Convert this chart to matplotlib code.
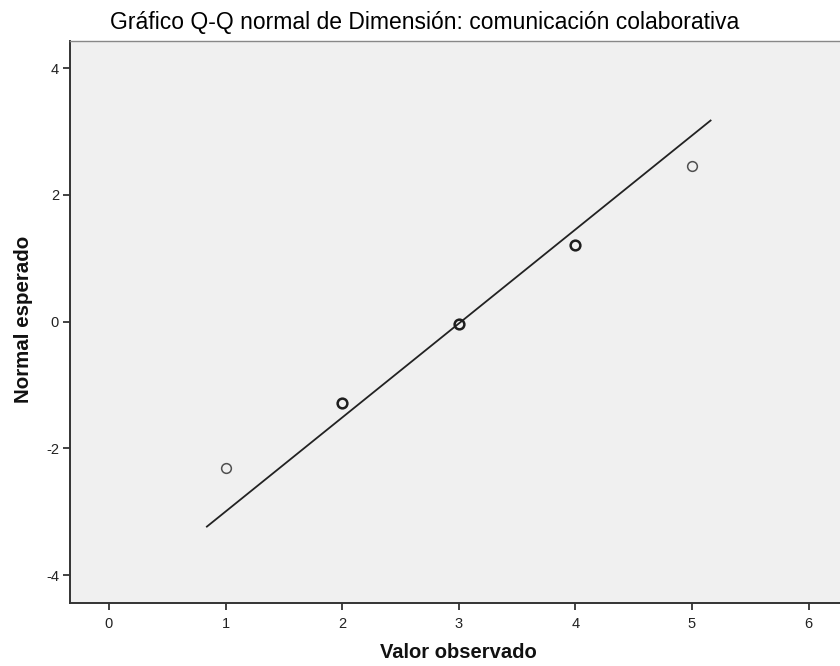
import matplotlib
matplotlib.use("Agg")
import matplotlib.pyplot as plt
import numpy as np

plt.rcParams['font.family'] = ['Liberation Sans', 'DejaVu Sans']
plt.rcParams['axes.unicode_minus'] = False

# Observed values and their expected normal quantiles
observed = [1, 2, 3, 4, 5]
expected = [-2.31, -1.28, -0.04, 1.21, 2.46]
# cases sharing a value are drawn with a heavier ring
ring_width = [1.1, 1.8, 1.8, 1.8, 1.1]
ring_color = ['#505050', '#1e1e1e', '#1e1e1e', '#1e1e1e', '#505050']

# Reference line of the fitted normal: expected = (x - mean) / sd
line_mean = 3.02
line_sd = 0.674
line_x = [0.84, 5.16]

x_ticks = [0, 1, 2, 3, 4, 5, 6]
y_ticks = [-4, -2, 0, 2, 4]

fig = plt.figure(figsize=(8.4, 6.66), dpi=100)
ax = fig.add_axes([70 / 840, 1 - 603 / 666, 1 - 70 / 840, (603 - 41) / 666])
ax.set_facecolor('#f0f0f0')

lx = np.array(line_x)
ly = (lx - line_mean) / line_sd
ax.plot(lx, ly, color='#222222', lw=1.3, zorder=2)

for xv, yv, w, c in zip(observed, expected, ring_width, ring_color):
    ax.plot(xv, yv, 'o', ms=7, mfc='none', mec=c, mew=w, zorder=3)

ax.set_xlim(-0.334, 6.27)
ax.set_ylim(-4.44, 4.43)
ax.set_xticks(x_ticks)
ax.set_yticks(y_ticks)
ax.tick_params(axis='both', direction='out', length=5, width=1.3, color='#333333',
               labelsize=10.5, labelcolor='#222222', pad=3)
ax.tick_params(axis='x', pad=5)

for side in ['left', 'bottom']:
    ax.spines[side].set_color('#333333')
    ax.spines[side].set_linewidth(1.4)
ax.spines['top'].set_color('#888888')
ax.spines['top'].set_linewidth(1.0)
ax.spines['right'].set_visible(False)

fig.text(424.5 / 840, 1 - 22 / 666, 'Gráfico Q-Q normal de Dimensión: comunicación colaborativa',
         ha='center', va='center', fontsize=16.5, color='#000000')
fig.text(458 / 840, 1 - 652 / 666, 'Valor observado', ha='center', va='center',
         fontsize=14.5, fontweight='bold', color='#111111')
fig.text(24 / 840, 1 - 319 / 666, 'Normal esperado', ha='center', va='center',
         rotation=90, fontsize=14.8, fontweight='bold', color='#111111')

fig.savefig('out.png', dpi=100, facecolor='white')
